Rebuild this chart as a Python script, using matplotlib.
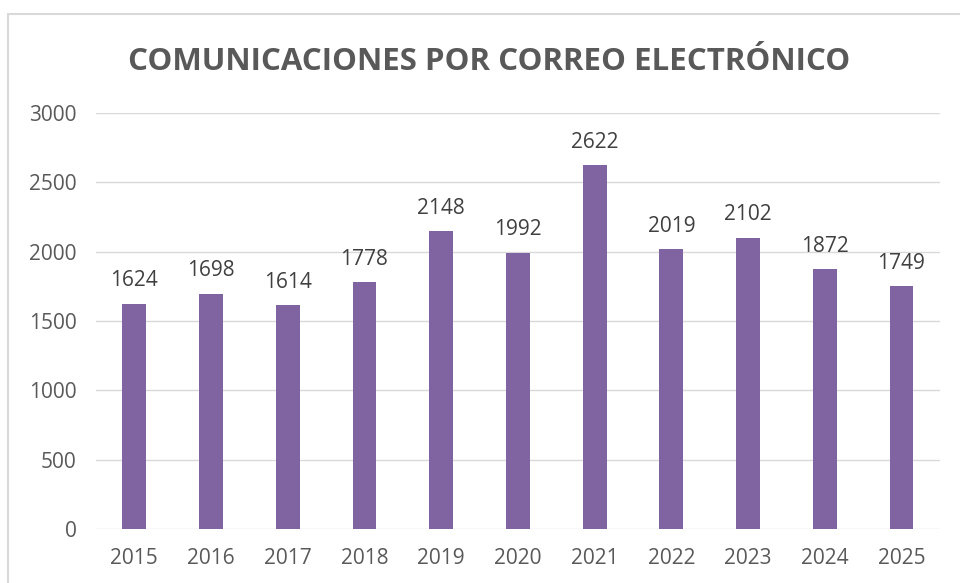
import matplotlib
matplotlib.use("Agg")
import matplotlib.pyplot as plt
from matplotlib.patches import Rectangle

years = ["2015", "2016", "2017", "2018", "2019", "2020", "2021", "2022", "2023", "2024", "2025"]
emails = [1624, 1698, 1614, 1778, 2148, 1992, 2622, 2019, 2102, 1872, 1749]

plt.rcParams['font.family'] = ['Open Sans', 'DejaVu Sans']

fig = plt.figure(figsize=(9.6, 5.83), dpi=100)
ax = fig.add_axes([0.1, 0.0926, 0.879, 0.7136])

# chart border (runs off the right and bottom edge like the screenshot)
fig.patches.append(Rectangle((8 / 960, -0.1), 1.2, 1 - 14 / 583 + 0.1,
                             transform=fig.transFigure, fill=False,
                             edgecolor="#D9D9D9", linewidth=1.5))

x = range(len(years))
bars = ax.bar(x, emails, width=0.31, color="#8064A2", zorder=3)
for b, v in zip(bars, emails):
    ax.annotate(str(v), (b.get_x() + b.get_width() / 2, v), xytext=(0, 9),
                textcoords="offset points", ha="center", va="bottom",
                fontsize=15, color="#404040")

ax.set_xlim(-0.5, len(years) - 0.5)
ax.set_ylim(0, 3000)
ax.set_yticks(range(0, 3001, 500))
ax.set_xticks(list(x))
ax.set_xticklabels(years)
ax.yaxis.grid(True, color="#D9D9D9", linewidth=1, zorder=0)
ax.tick_params(length=0, labelsize=15, labelcolor="#595959")
ax.tick_params(axis="y", pad=14)
ax.tick_params(axis="x", pad=14)
for s in ax.spines.values():
    s.set_visible(False)

fig.text(0.51, 0.893, "COMUNICACIONES POR CORREO ELECTRÓNICO",
         ha="center", va="center", fontsize=22.5, fontweight="bold", color="#595959")

fig.savefig("out.png", dpi=100)
